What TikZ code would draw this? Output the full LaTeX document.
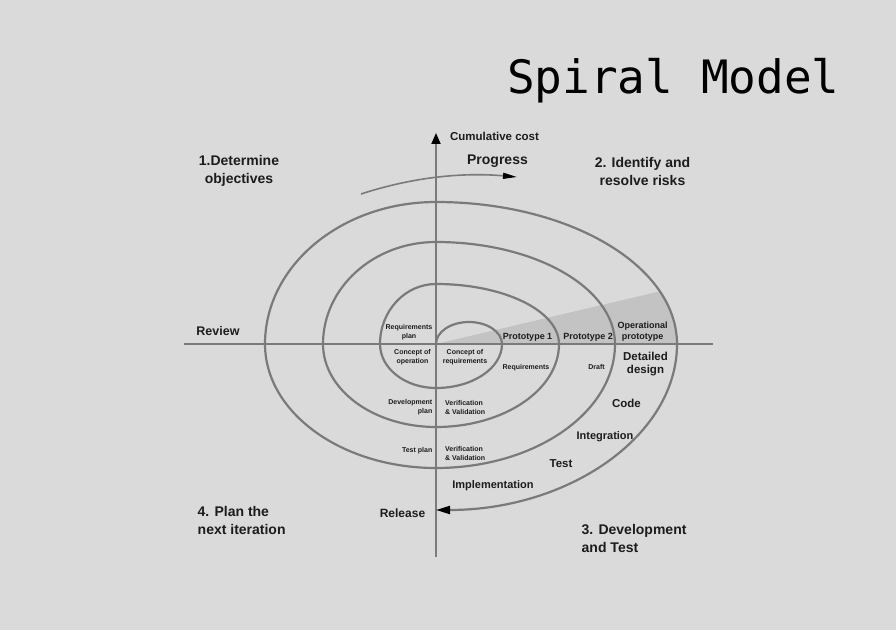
\documentclass[tikz,border=0pt]{standalone}
\usepackage{fontspec}
\setmainfont{Liberation Sans}
\newfontfamily\titlefont{DejaVu Sans Mono}
\usetikzlibrary{arrows.meta}
\definecolor{bg}{HTML}{DADADA}
\definecolor{linegrey}{HTML}{7A7A7A}
\definecolor{wedgegrey}{HTML}{C3C3C3}
\definecolor{ink}{HTML}{1C1C1C}
\begin{document}
\begin{tikzpicture}[x=1pt,y=1pt,
  spiralline/.style={draw=linegrey, line width=2.2pt},
  axisline/.style={draw=linegrey, line width=1.8pt},
  lbl/.style={text=ink, inner sep=0pt},
  phase/.style={lbl, font=\fontsize{14}{18}\selectfont\bfseries},
  midlbl/.style={lbl, font=\fontsize{11.5}{13}\selectfont\bfseries},
  protolbl/.style={lbl, font=\fontsize{9}{11.5}\selectfont\bfseries, align=center},
  smalllbl/.style={lbl, font=\fontsize{7}{9}\selectfont\bfseries},
  blacktip/.tip={Triangle[length=13pt,width=8pt,color=black]}
]
% background / bounding box
\fill[bg] (0,0) rectangle (896,630);
\useasboundingbox (0,0) rectangle (896,630);

% shaded wedge
\begin{scope}
  \clip (436,286) ellipse [x radius=241, y radius=142];
  \fill[wedgegrey] (436,286) -- (700,348.1) -- (700,286) -- cycle;
\end{scope}

% axes
\coordinate (hl) at (184,286);
\coordinate (hr) at (713,286);
\coordinate (vb) at (436,73);
\coordinate (vt) at (436,497);
\draw[axisline] (hl) -- (hr);
\draw[axisline, -{Triangle[length=11pt,width=9pt,color=black]}] (vb) -- (vt);

% spiral
\coordinate (sstart) at (436,286);
\draw[spiralline, -{Triangle[length=14pt,width=8pt,color=black]}]
  (sstart) arc[start angle=180, end angle=0, x radius=33, y radius=22]
  arc[start angle=0, end angle=-90, x radius=66, y radius=44]
  arc[start angle=-90, end angle=-180, x radius=56, y radius=44]
  arc[start angle=180, end angle=90, x radius=56, y radius=60]
  arc[start angle=90, end angle=0, x radius=123, y radius=60]
  arc[start angle=0, end angle=-90, x radius=123, y radius=83]
  arc[start angle=-90, end angle=-180, x radius=113, y radius=83]
  arc[start angle=180, end angle=90, x radius=113, y radius=102]
  arc[start angle=90, end angle=0, x radius=179, y radius=102]
  arc[start angle=0, end angle=-90, x radius=179, y radius=124]
  arc[start angle=-90, end angle=-180, x radius=171, y radius=124]
  arc[start angle=180, end angle=90, x radius=171, y radius=142]
  arc[start angle=90, end angle=0, x radius=241, y radius=142]
  arc[start angle=0, end angle=-90, x radius=241, y radius=166];

% progress arrow
\coordinate (pstart) at (361,436);
\coordinate (pend) at (517,453);
\draw[axisline, line width=1.6pt, -{Triangle[length=14pt,width=6pt,color=black]}]
  (pstart) .. controls (410,452) and (460,458) .. (pend);

% title
\node[lbl, anchor=base west, font=\fontsize{46}{50}\selectfont\titlefont, text=black] (title) at (507,536) {Spiral Model};

% axis labels
\node[lbl, font=\fontsize{11.5}{13}\selectfont\bfseries] (cost) at (494.5,494) {Cumulative cost};
\node[phase] (progress) at (497.5,469) {Progress};

% quadrant labels
\node[phase, align=center] (q1) at (239,459) {1.Determine\\objectives};
\node[phase, align=center] (q2) at (642.5,459) {2. Identify and\\resolve risks};
\node[phase, align=left, anchor=west] (q4) at (197.5,110) {4. Plan the\\next iteration};
\node[phase, align=left, anchor=west] (q3) at (581.5,92) {3. Development\\and Test};

% axis end labels
\node[lbl, font=\fontsize{12.5}{14}\selectfont\bfseries] (review) at (218,299) {Review};
\node[lbl, font=\fontsize{12}{14}\selectfont\bfseries] (release) at (402.5,117) {Release};

% lower right stages
\node[midlbl, font=\fontsize{11}{13}\selectfont\bfseries] (impl) at (493,144) {Implementation};
\node[midlbl] (test) at (561,166) {Test};
\node[midlbl, font=\fontsize{11}{13}\selectfont\bfseries] (integ) at (605,193) {Integration};
\node[midlbl] (code) at (626.5,227) {Code};
\node[midlbl, align=center] (detail) at (645.5,265.5) {Detailed\\design};

% prototypes
\node[protolbl] (proto1) at (527.5,293) {Prototype 1};
\node[protolbl] (proto2) at (588,293) {Prototype 2};
\node[protolbl] (opproto) at (642.5,298.5) {Operational\\prototype};

% small labels
\node[smalllbl, align=center] (reqplan) at (409,297.5) {Requirements\\plan};
\node[smalllbl, align=center] (conop) at (412.5,272.5) {Concept of\\operation};
\node[smalllbl, align=center] (conreq) at (465,272.5) {Concept of\\requirements};
\node[smalllbl] (reqs) at (526,262) {Requirements};
\node[smalllbl] (draft) at (596.5,263) {Draft};
\node[smalllbl, align=right, anchor=east] (devplan) at (432.5,222.5) {Development\\plan};
\node[smalllbl, align=left, anchor=west] (vv1) at (445,222.5) {Verification\\\& Validation};
\node[smalllbl, anchor=east] (testplan) at (432.5,179) {Test plan};
\node[smalllbl, align=left, anchor=west] (vv2) at (445,176.5) {Verification\\\& Validation};
\end{tikzpicture}
\end{document}
